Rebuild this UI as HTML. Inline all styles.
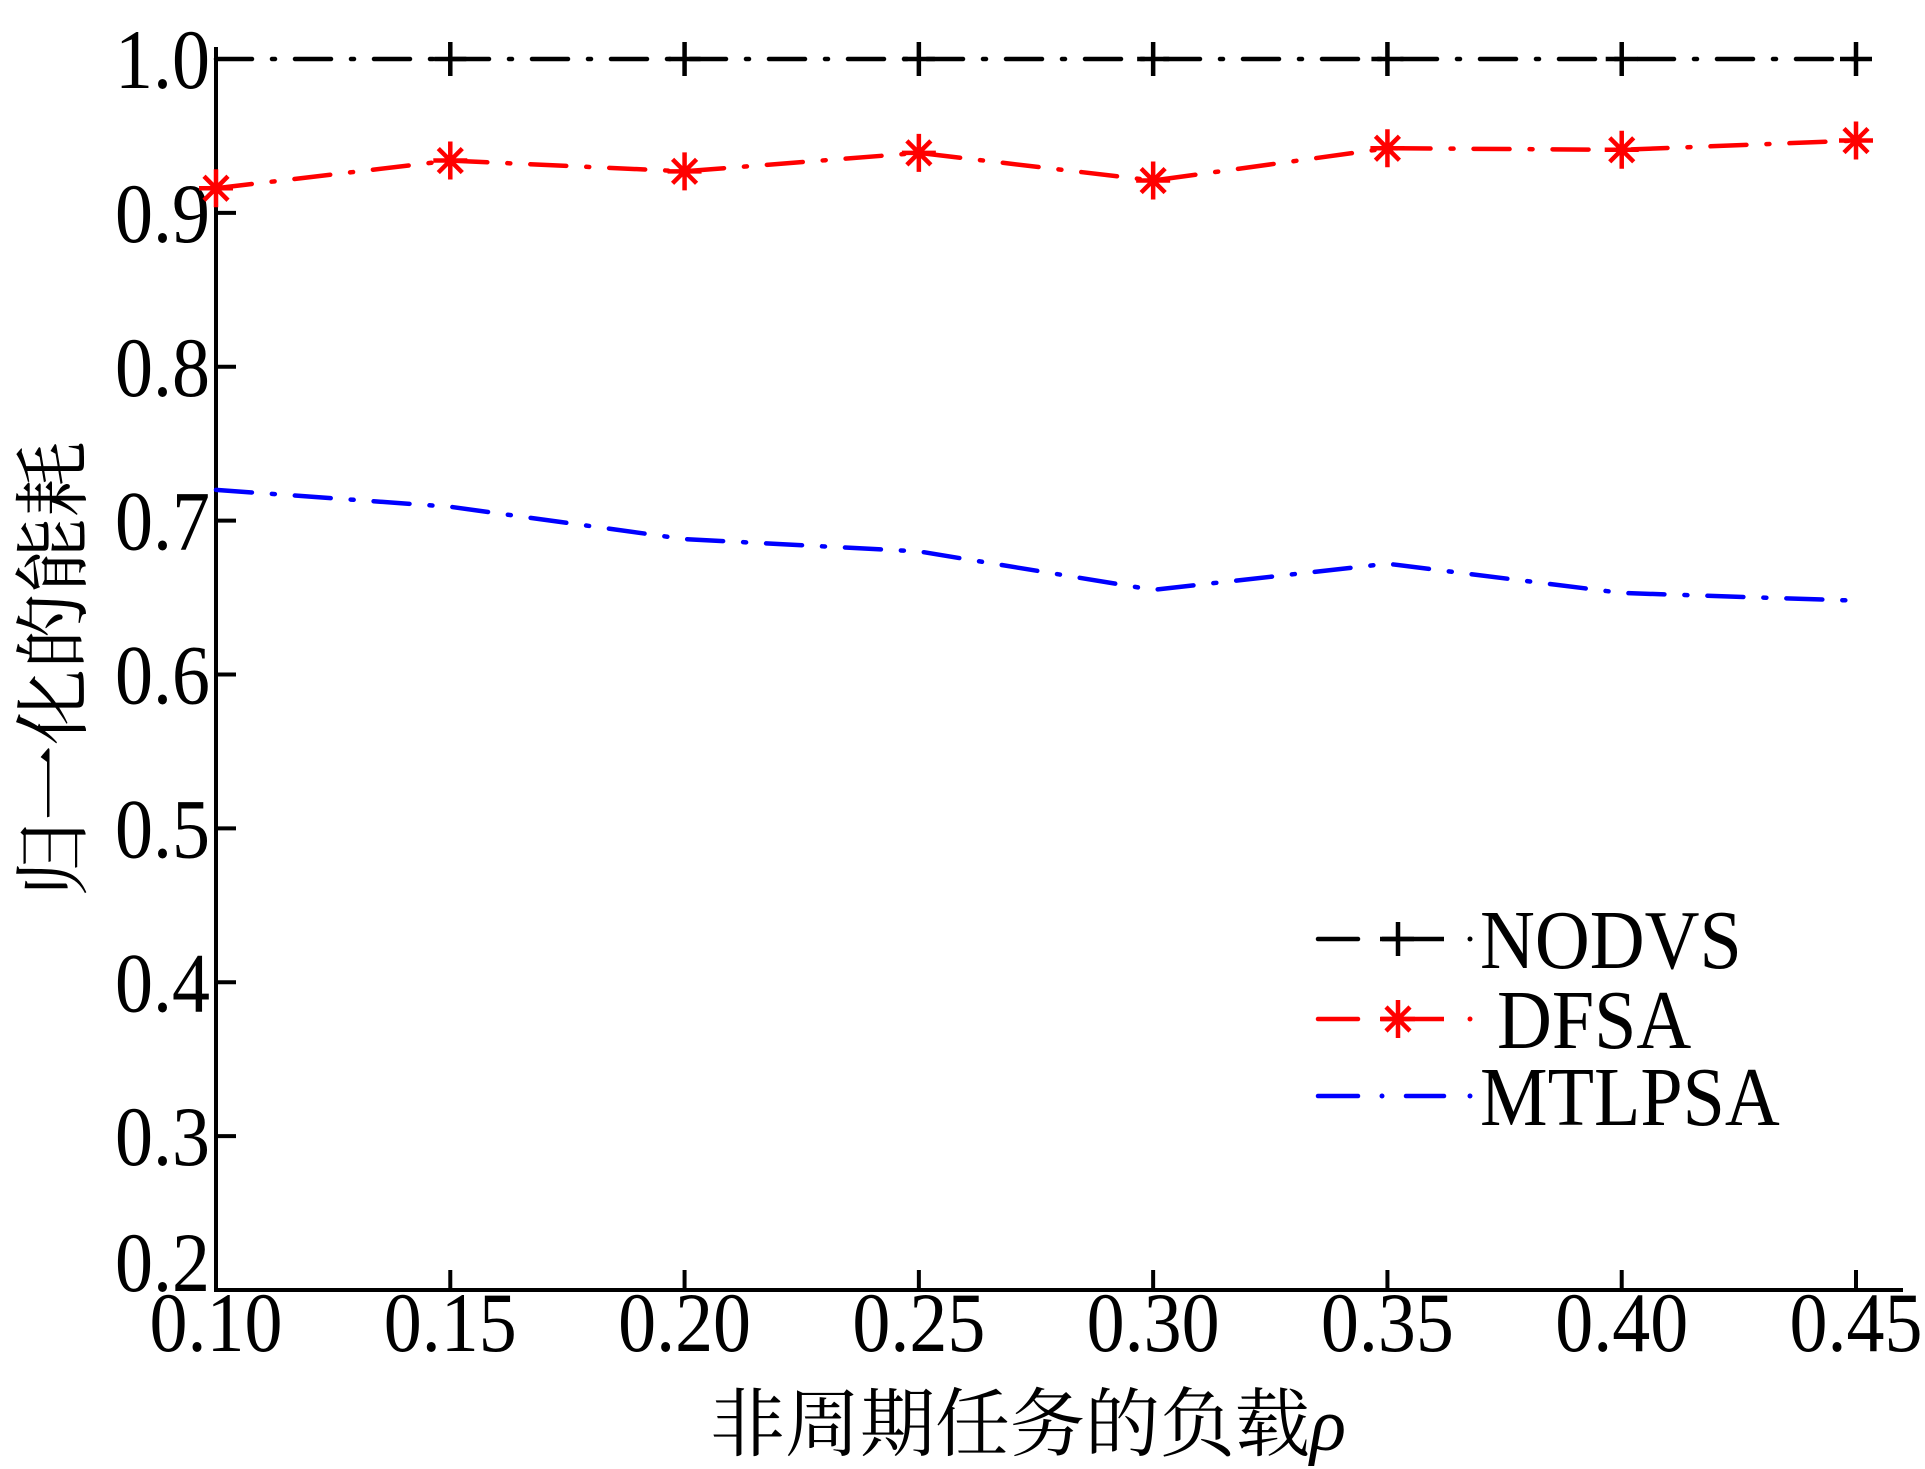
<!DOCTYPE html>
<html><head><meta charset="utf-8">
<style>
html,body{margin:0;padding:0;background:#fff;}
svg{display:block;}
.t{font-family:"Liberation Serif","Noto Serif CJK SC",serif;}
</style></head>
<body>
<svg id="chart" width="1925" height="1469" viewBox="0 0 1925 1469" xmlns="http://www.w3.org/2000/svg">
<g id="axes"></g>
<g id="series"></g>
<g id="legend"></g>
<text class="t" x="1028" y="1450" font-size="75" text-anchor="middle">非周期任务的负载<tspan font-style="italic">ρ</tspan></text>
<text class="t" transform="translate(80,669) rotate(-90)" font-size="76" text-anchor="middle">归一化的能耗</text>
</svg>
<script>
const xCategories = [0.10,0.15,0.20,0.25,0.30,0.35,0.40,0.45];
const xTickLabels = ["0.10","0.15","0.20","0.25","0.30","0.35","0.40","0.45"];
const yTicks = [0.2,0.3,0.4,0.5,0.6,0.7,0.8,0.9,1.0];
const yTickLabels = ["0.2","0.3","0.4","0.5","0.6","0.7","0.8","0.9","1.0"];
const nodvsValues = [1.0,1.0,1.0,1.0,1.0,1.0,1.0,1.0];
const dfsaValues = [0.916,0.934,0.927,0.939,0.921,0.942,0.941,0.947];
const mtlpsaValues = [0.720,0.709,0.688,0.680,0.655,0.672,0.653,0.648];

const NS="http://www.w3.org/2000/svg";
const X0=216, X1=1856, XEND=1903, Y0=1290, YTOP=59;
function xs(v){return X0+(v-0.10)/(0.45-0.10)*(X1-X0);}
function ys(v){return Y0-(v-0.2)/(1.0-0.2)*(Y0-YTOP);}
function mk(tag,attrs,parent){const e=document.createElementNS(NS,tag);for(const k in attrs)e.setAttribute(k,attrs[k]);parent.appendChild(e);return e;}
const axes=document.getElementById('axes');
let l=mk('line',{x1:X0,y1:Y0,x2:XEND,y2:Y0,stroke:'#000','stroke-width':4},axes);


l=mk('line',{x1:X0,y1:Y0+2,x2:X0,y2:YTOP-12,stroke:'#000','stroke-width':4},axes);


xCategories.forEach((v,i)=>{
  const t=mk('line',{x1:xs(v),y1:Y0,x2:xs(v),y2:Y0-20,stroke:'#000','stroke-width':4},axes);
  
  
  const tx=mk('text',{x:0,y:0,'font-size':76,'text-anchor':'middle',class:'t',transform:`translate(${xs(v)},1351) scale(1,1.12)`},axes);
  tx.textContent=xTickLabels[i];
  
  
});
yTicks.forEach((v,i)=>{
  const t=mk('line',{x1:X0,y1:ys(v),x2:X0+20,y2:ys(v),stroke:'#000','stroke-width':4},axes);
  
  
  const off = i===0 ? -28 : 0;
  const tx=mk('text',{x:0,y:0,'font-size':76,'text-anchor':'end',class:'t',transform:`translate(210,${ys(v)+29+off}) scale(1,1.12)`},axes);
  tx.textContent=yTickLabels[i];
  
  
});
const ser=document.getElementById('series');
const dash='36 20 3 20';
function plus(g,x,y,c){mk('path',{d:`M${x-16},${y}H${x+16}M${x},${y-17}V${y+17}`,stroke:c,'stroke-width':4.5,fill:'none'},g);}
function star(g,x,y,c){mk('path',{d:`M${x-17},${y}H${x+17}M${x},${y-19}V${y+19}M${x-12},${y-12}L${x+12},${y+12}M${x-12},${y+12}L${x+12},${y-12}`,stroke:c,'stroke-width':4.5,fill:'none'},g);}
function drawSeries(vals,color,name,marker){
  const g=mk('g',{},ser);
  
  
  const pts=vals.map((v,i)=>xs(xCategories[i])+','+ys(v)).join(' ');
  const p=mk('polyline',{points:pts,fill:'none',stroke:color,'stroke-width':4.5,'stroke-dasharray':dash,'stroke-linecap':'round'},g);
  
  
  if(marker) vals.forEach((v,i)=>{ if(i>0||marker===star) marker(g,xs(xCategories[i]),ys(v),color);});
}
drawSeries(nodvsValues,'#000','nodvs-series',plus);
drawSeries(dfsaValues,'#f00','dfsa-series',star);
drawSeries(mtlpsaValues,'#00f','mtlpsa-series',null);
const leg=document.getElementById('legend');
const items=[["NODVS",'#000',plus,939,1480],["DFSA",'#f00',star,1019,1497],["MTLPSA",'#00f',null,1096,1480]];
items.forEach(it=>{
  const g=mk('g',{},leg);
  
  
  const y=it[3];
  mk('line',{x1:1318,y1:y,x2:1358,y2:y,stroke:it[1],'stroke-width':4.5,'stroke-linecap':'round'},g);
  if(it[2]){mk('line',{x1:1380,y1:y,x2:1444,y2:y,stroke:it[1],'stroke-width':4.5},g);it[2](g,1398,y,it[1]);}
  else{mk('circle',{cx:1382,cy:y,r:2.5,fill:it[1]},g);mk('line',{x1:1406,y1:y,x2:1444,y2:y,stroke:it[1],'stroke-width':4.5,'stroke-linecap':'round'},g);}
  mk('circle',{cx:1470,cy:y,r:2.5,fill:it[1]},g);
  const tx=mk('text',{x:0,y:0,'font-size':76,class:'t',transform:`translate(${it[4]},${y+29}) scale(1,1.1)`},g);
  tx.textContent=it[0];
});
</script>
</body></html>
